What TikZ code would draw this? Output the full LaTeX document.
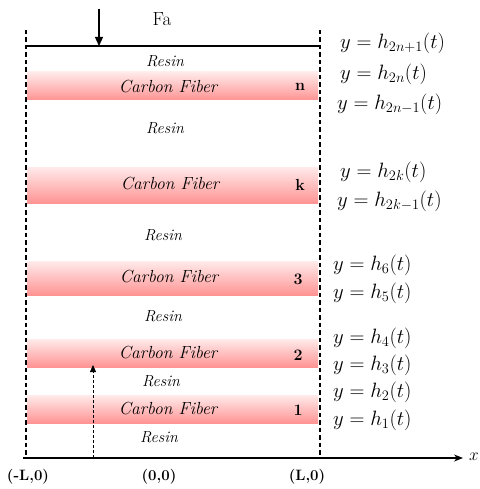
\documentclass[tikz,border=0pt]{standalone}
\usetikzlibrary{arrows.meta}
\begin{document}
\begin{tikzpicture}[x=1pt,y=-1pt,
  band/.style={top color=red!8,bottom color=red!42,draw=none},
  cf/.style={font=\fontsize{17.5}{19}\selectfont\itshape,inner sep=0},
  resin/.style={font=\fontsize{16}{18}\selectfont\itshape,inner sep=0},
  num/.style={font=\fontsize{16}{18}\selectfont\bfseries,inner sep=0},
  eq/.style={anchor=west,font=\fontsize{21.5}{24}\selectfont,inner sep=0},
  coordlab/.style={font=\fontsize{15}{17}\selectfont\bfseries,inner sep=0},
  wall/.style={line width=1.4pt,dash pattern=on 4.5pt off 3pt}]
\useasboundingbox (0,0) rectangle (479,489);
% bands
\fill[band] (27,72) rectangle (318,100);
\fill[band] (27,167) rectangle (318,203);
\fill[band] (27,261) rectangle (318,295);
\fill[band] (27,339) rectangle (318,367);
\fill[band] (27,395) rectangle (318,423);
% walls
\coordinate (lt) at (26,30); \coordinate (lb) at (26,458);
\coordinate (rt) at (320,30); \coordinate (rb) at (320,458);
\draw[wall] (lt) -- (lb);
\draw[wall] (rt) -- (rb);
% top surface
\coordinate (tl) at (26,46); \coordinate (tr) at (320,46);
\draw[line width=1.3pt] (tl) -- (tr);
% load
\coordinate (fa0) at (99,9); \coordinate (fa1) at (99,46);
\draw[line width=1.3pt,-{Triangle[length=9pt,width=8pt]}] (fa0) -- (fa1);
\node[font=\fontsize{19}{21}\selectfont,inner sep=0] (fa) at (162,19) {Fa};
% axis
\coordinate (ax0) at (23,458); \coordinate (ax1) at (463,458);
\draw[line width=1.3pt,-{Stealth[length=9pt,width=7pt]}] (ax0) -- (ax1);
\node[font=\fontsize{18}{20}\selectfont,inner sep=0] (xl) at (474,457) {$x$};
% dashed arrow
\coordinate (da0) at (93,458); \coordinate (da1) at (93,365);
\draw[line width=0.9pt,dash pattern=on 3pt off 2pt,-{Triangle[length=7pt,width=6pt]}] (da0) -- (da1);
% labels
\node[resin] (r6) at (165,61) {Resin};
\node[cf] (cn) at (168,87) {Carbon Fiber};
\node[num] (nn) at (300,87) {n};
\node[resin] (r5) at (165,128) {Resin};
\node[cf] (ck) at (170,184) {Carbon Fiber};
\node[num] (nk) at (300,185) {k};
\node[resin] (r4) at (163,235) {Resin};
\node[cf] (c3) at (169,277) {Carbon Fiber};
\node[num] (n3) at (298,279) {3};
\node[resin] (r3) at (163,316) {Resin};
\node[cf] (c2) at (168,353) {Carbon Fiber};
\node[num] (n2) at (298,355) {2};
\node[resin] (r2) at (161,381) {Resin};
\node[cf] (c1) at (168,409) {Carbon Fiber};
\node[num] (n1) at (298,410) {1};
\node[resin] (r1) at (159,437) {Resin};
% coordinates
\node[coordlab] (cl) at (28,477) {(-L,0)};
\node[coordlab] (c0) at (159,477) {(0,0)};
\node[coordlab] (cr) at (307,477) {(L,0)};
% equations
\node[eq] (e1) at (340,43) {$y=h_{2n+1}(t)$};
\node[eq] (e2) at (340,74) {$y=h_{2n}(t)$};
\node[eq] (e3) at (337,104) {$y=h_{2n-1}(t)$};
\node[eq] (e4) at (340,172) {$y=h_{2k}(t)$};
\node[eq] (e5) at (337,201) {$y=h_{2k-1}(t)$};
\node[eq] (e6) at (333,265) {$y=h_{6}(t)$};
\node[eq] (e7) at (333,293) {$y=h_{5}(t)$};
\node[eq] (e8) at (333,338) {$y=h_{4}(t)$};
\node[eq] (e9) at (333,365) {$y=h_{3}(t)$};
\node[eq] (e10) at (333,392) {$y=h_{2}(t)$};
\node[eq] (e11) at (333,420) {$y=h_{1}(t)$};
\end{tikzpicture}
\end{document}
